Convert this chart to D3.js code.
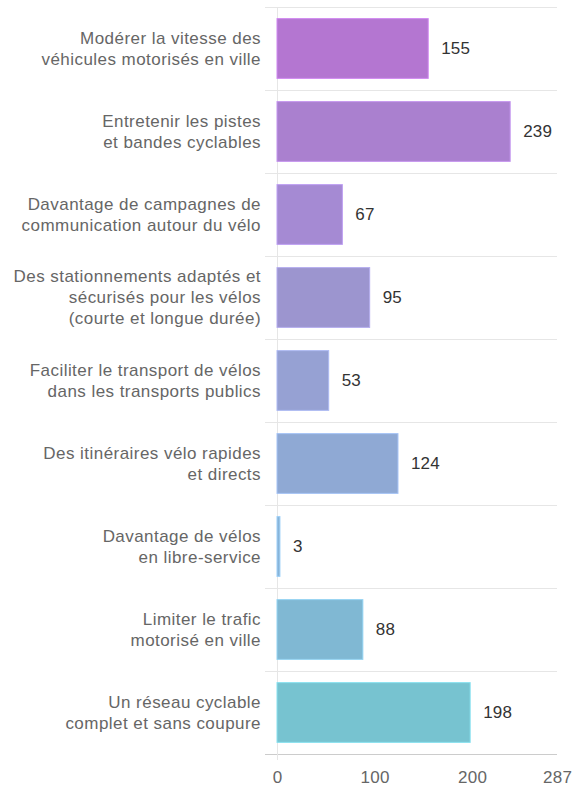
<!DOCTYPE html>
<html><head><meta charset="utf-8">
<script src="https://cdn.jsdelivr.net/npm/d3@7"></script>
<style>body{margin:0;background:#fff;font-family:"Liberation Sans",Arial,sans-serif;}</style>
</head><body><svg id="c" width="582" height="787"></svg>
<script>
const categories = [
  ["Modérer la vitesse des","véhicules motorisés en ville"],
  ["Entretenir les pistes","et bandes cyclables"],
  ["Davantage de campagnes de","communication autour du vélo"],
  ["Des stationnements adaptés et","sécurisés pour les vélos","(courte et longue durée)"],
  ["Faciliter le transport de vélos","dans les transports publics"],
  ["Des itinéraires vélo rapides","et directs"],
  ["Davantage de vélos","en libre-service"],
  ["Limiter le trafic","motorisé en ville"],
  ["Un réseau cyclable","complet et sans coupure"]
];
const values = [155, 239, 67, 95, 53, 124, 3, 88, 198];
const tickValues = [0, 100, 200, 287];
const palette = ["#b476d1","#aa80cf","#a58ad3","#9c95cf","#96a1d3","#8fa9d4","#88b4d8","#80b8d3","#77c3d0"];

const svg = d3.select("#c");
const m = {left:277, right:25, top:7, bottom:33};
const W = 582, H = 787;
const x = d3.scaleLinear().domain([0,287]).range([m.left, W-m.right]);
const y = d3.scaleBand().domain(d3.range(values.length)).range([m.top, H-m.bottom]).paddingInner(0.28).paddingOuter(0.14);
const step = y.step();

const bounds = d3.range(values.length+1).map(i => m.top + i*step);
svg.append("g").selectAll("line").data(bounds).join("line")
  .attr("x1", 265).attr("x2", x(287)).attr("y1", d=>d).attr("y2", d=>d)
  .attr("stroke", d => d===bounds[bounds.length-1] ? "#ccc" : "#e6e6e6").attr("stroke-width",1)
  .attr("shape-rendering","crispEdges");
svg.append("line").attr("x1",x(0)).attr("x2",x(0)).attr("y1",m.top).attr("y2",H-m.bottom+6)
  .attr("stroke","#e6e6e6").attr("shape-rendering","crispEdges");

svg.append("g").selectAll("rect").data(values).join("rect")
  .attr("x", x(0)).attr("y",(d,i)=>y(i)).attr("width", d=>x(d)-x(0)).attr("height", y.bandwidth())
  .attr("fill",(d,i)=>palette[i]).attr("stroke",(d,i)=>d3.color(palette[i]).brighter(0.4)).attr("stroke-width",1);

svg.append("g").selectAll("text").data(values).join("text")
  .attr("x", d=>x(d)+13).attr("y",(d,i)=>y(i)+y.bandwidth()/2).attr("dy","0.35em")
  .attr("font-size",17).attr("letter-spacing","0.2px").attr("fill","#333").text(d=>d);

const lh = 21;
const lab = svg.append("g").selectAll("text").data(categories).join("text")
  .attr("text-anchor","end").attr("font-size",17).attr("letter-spacing","0.45px").attr("fill","#666");
lab.each(function(lines,i){
  const cy = y(i)+y.bandwidth()/2;
  const t = d3.select(this);
  lines.forEach((l,j)=>{
    t.append("tspan").attr("x",261).attr("y", cy + (j-(lines.length-1)/2)*lh).attr("dy","0.35em").text(l);
  });
});

const ax = d3.axisBottom(x).tickValues(tickValues).tickSize(0).tickPadding(17).tickFormat(d3.format("d"));
const g = svg.append("g").attr("transform",`translate(0,${H-m.bottom})`).call(ax);
g.select(".domain").remove();
g.selectAll("text").attr("font-size",17).attr("letter-spacing","0.3px").attr("fill","#666").attr("font-family","Liberation Sans, Arial, sans-serif");
</script></body></html>
